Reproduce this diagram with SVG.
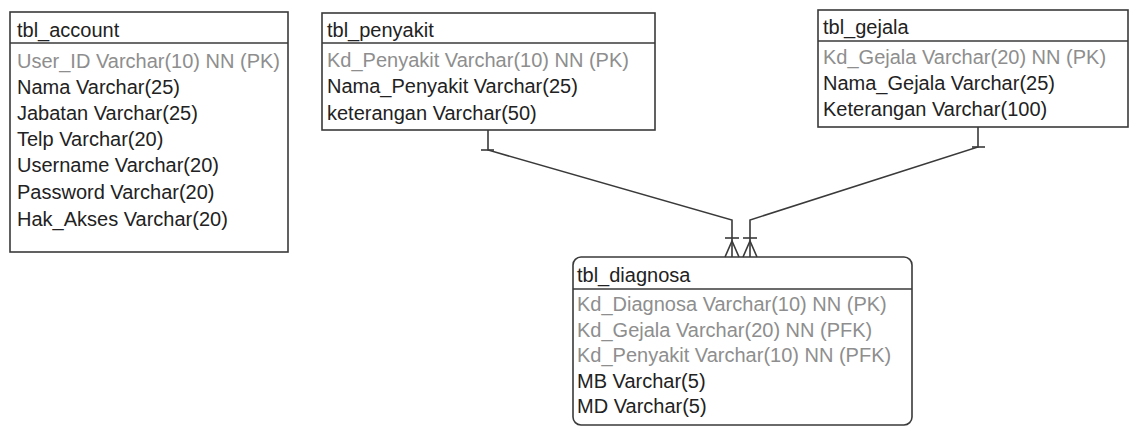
<svg xmlns="http://www.w3.org/2000/svg" width="1133" height="427" viewBox="0 0 1133 427">
  <style>
    .box { fill: #ffffff; stroke: #3a3a3a; stroke-width: 1.6; }
    .sep { stroke: #3a3a3a; stroke-width: 1.6; }
    .t { font-family: "Liberation Sans", Arial, sans-serif; font-size: 20px; fill: #222222; }
    .pk { fill: #8e8e8e; }
    .link { fill: none; stroke: #3a3a3a; stroke-width: 1.6; }
  </style>
  <rect width="1133" height="427" fill="#ffffff"/>

  <!-- tbl_account -->
  <g id="tbl_account">
    <rect class="box" x="10" y="12" width="278" height="240"/>
    <line class="sep" x1="10" y1="43" x2="288" y2="43"/>
    <text class="t" x="17" y="37">tbl_account</text>
    <text class="t pk" x="17" y="68">User_ID Varchar(10) NN (PK)</text>
    <text class="t" x="17" y="94">Nama Varchar(25)</text>
    <text class="t" x="17" y="120">Jabatan Varchar(25)</text>
    <text class="t" x="17" y="146">Telp Varchar(20)</text>
    <text class="t" x="17" y="172">Username Varchar(20)</text>
    <text class="t" x="17" y="199">Password Varchar(20)</text>
    <text class="t" x="17" y="226">Hak_Akses Varchar(20)</text>
  </g>

  <!-- tbl_penyakit -->
  <g id="tbl_penyakit">
    <rect class="box" x="322" y="13" width="333" height="117"/>
    <line class="sep" x1="322" y1="43" x2="655" y2="43"/>
    <text class="t" x="327" y="37">tbl_penyakit</text>
    <text class="t pk" x="327" y="67">Kd_Penyakit Varchar(10) NN (PK)</text>
    <text class="t" x="327" y="93">Nama_Penyakit Varchar(25)</text>
    <text class="t" x="327" y="120">keterangan Varchar(50)</text>
  </g>

  <!-- tbl_gejala -->
  <g id="tbl_gejala">
    <rect class="box" x="818" y="10" width="310" height="117"/>
    <line class="sep" x1="818" y1="41" x2="1128" y2="41"/>
    <text class="t" x="823" y="34">tbl_gejala</text>
    <text class="t pk" x="823" y="64">Kd_Gejala Varchar(20) NN (PK)</text>
    <text class="t" x="823" y="90">Nama_Gejala Varchar(25)</text>
    <text class="t" x="823" y="116">Keterangan Varchar(100)</text>
  </g>

  <!-- tbl_diagnosa -->
  <g id="tbl_diagnosa">
    <rect class="box" x="573" y="257" width="339" height="168" rx="8" ry="8"/>
    <line class="sep" x1="573" y1="289" x2="912" y2="289"/>
    <text class="t" x="577" y="282">tbl_diagnosa</text>
    <text class="t pk" x="577" y="311">Kd_Diagnosa Varchar(10) NN (PK)</text>
    <text class="t pk" x="577" y="337">Kd_Gejala Varchar(20) NN (PFK)</text>
    <text class="t pk" x="577" y="362">Kd_Penyakit Varchar(10) NN (PFK)</text>
    <text class="t" x="577" y="388">MB Varchar(5)</text>
    <text class="t" x="577" y="413">MD Varchar(5)</text>
  </g>

  <!-- relationships: one (bar) to many (crow's foot) -->
  <g id="connectors">
    <!-- tbl_penyakit to tbl_diagnosa -->
    <polyline class="link" points="488,130 488,150 732,220 732,257"/>
    <line class="link" x1="481" y1="150" x2="494" y2="150"/>
    <line class="link" x1="725" y1="238" x2="739" y2="238"/>
    <polyline class="link" points="725,257 732,241 739,257"/>

    <!-- tbl_gejala to tbl_diagnosa -->
    <polyline class="link" points="978,127 978,147 750,220 750,257"/>
    <line class="link" x1="972" y1="147" x2="985" y2="147"/>
    <line class="link" x1="743" y1="238" x2="757" y2="238"/>
    <polyline class="link" points="743,257 750,241 757,257"/>
  </g>
</svg>
